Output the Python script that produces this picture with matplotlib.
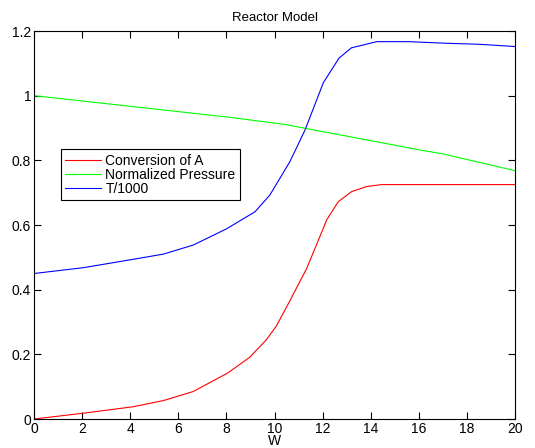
import matplotlib
matplotlib.use('Agg')
import matplotlib.pyplot as plt

plt.rcParams['font.family'] = ['Liberation Sans', 'DejaVu Sans']
plt.rcParams['font.size'] = 9

# values
w_conv = [0, 2.05, 4.13, 5.38, 6.62, 8.07, 8.97, 9.66, 10.08, 10.6, 11.34, 12.03,
          12.17, 12.65, 13.2, 13.83, 14.45, 16, 18, 20]
conversion = [0, 0.018, 0.038, 0.057, 0.085, 0.143, 0.191, 0.245, 0.288, 0.36, 0.466, 0.590,
              0.616, 0.672, 0.703, 0.719, 0.725, 0.725, 0.725, 0.725]

w_press = [0, 8.15, 10.44, 11.27, 13.14, 16.05, 17.0, 20]
pressure = [1.0, 0.933, 0.911, 0.899, 0.873, 0.832, 0.82, 0.768]

w_temp = [0, 2.05, 4.13, 5.38, 6.62, 8.0, 9.19, 9.81, 10.64, 11.27, 12.03, 12.68, 13.2,
          14.25, 15.6, 17.16, 18.5, 20]
temp = [0.450, 0.468, 0.494, 0.510, 0.538, 0.588, 0.641, 0.693, 0.796, 0.894, 1.040, 1.116, 1.148,
        1.167, 1.167, 1.162, 1.159, 1.152]

fig = plt.figure(figsize=(5.35, 4.48), dpi=100)
ax = fig.add_axes([0.0636, 0.0647, 0.899, 0.8661])

ax.plot(w_conv, conversion, color='red', lw=0.8, label='Conversion of A')
ax.plot(w_press, pressure, color='#00ff00', lw=0.8, label='Normalized Pressure')
ax.plot(w_temp, temp, color='blue', lw=0.8, label='T/1000')

ax.set_xlim(0, 20)
ax.set_ylim(0, 1.2)
ax.set_xticks(range(0, 21, 2))
ax.set_yticks([0, 0.2, 0.4, 0.6, 0.8, 1, 1.2])
ax.set_yticklabels(['0', '0.2', '0.4', '0.6', '0.8', '1', '1.2'])
ax.tick_params(direction='in', top=True, right=True, length=5, width=0.8, pad=2, labelsize=10)
for s in ax.spines.values():
    s.set_linewidth(0.8)

ax.set_title('Reactor Model', fontsize=9.5, pad=7)
ax.set_xlabel('W', fontsize=10, labelpad=-1)

leg = ax.legend(loc='upper left', bbox_to_anchor=(0.056, 0.695), fancybox=False,
                edgecolor='black', framealpha=1, fontsize=10, handlelength=2.6,
                handletextpad=0.3, labelspacing=0.0, borderpad=0.3, borderaxespad=0)
leg.get_frame().set_linewidth(0.8)

plt.savefig('out.png', dpi=100)
